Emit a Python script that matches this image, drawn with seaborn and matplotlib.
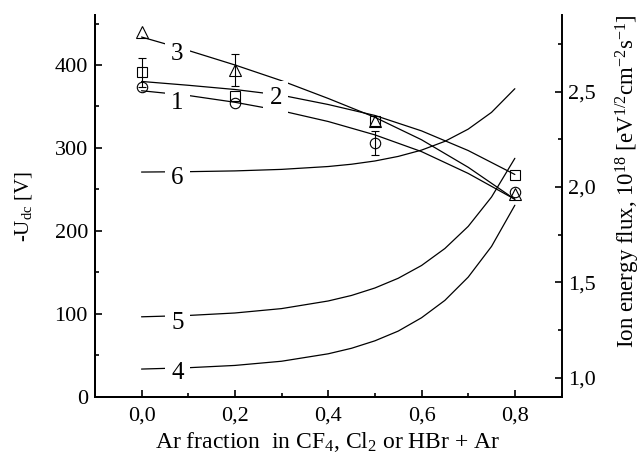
import numpy as np
import pandas as pd
import matplotlib
matplotlib.use("Agg")
import matplotlib.pyplot as plt
import seaborn as sns
from matplotlib.ticker import MultipleLocator, FuncFormatter

# fitted curves for -Udc [V] (left axis), curves 1-3
x_udc = [0.0, 0.1, 0.2, 0.3, 0.4, 0.5, 0.6, 0.7, 0.8]
udc_1 = [369.0, 363.3, 355.1, 344.8, 331.9, 315.8, 295.6, 269.3, 238.1]
udc_2 = [380.2, 375.6, 370.5, 363.6, 352.4, 339.2, 320.6, 296.9, 268.0]
udc_3 = [433.8, 417.6, 400.1, 381.1, 359.7, 337.0, 309.9, 276.7, 238.1]

# ion energy flux, 10^18 (right axis), curves 4-6
x_ief = [0.0, 0.1, 0.2, 0.3, 0.4, 0.45, 0.5, 0.55, 0.6, 0.65, 0.7, 0.75, 0.8]
ief_4 = [1.045, 1.052, 1.064, 1.086, 1.125, 1.154, 1.193, 1.244, 1.314, 1.405, 1.527, 1.688, 1.904]
ief_5 = [1.319, 1.326, 1.339, 1.362, 1.402, 1.431, 1.470, 1.521, 1.588, 1.677, 1.793, 1.947, 2.150]
ief_6 = [2.078, 2.080, 2.084, 2.092, 2.107, 2.119, 2.136, 2.160, 2.193, 2.239, 2.303, 2.391, 2.515]

# measured points
x_meas = [0.0, 0.2, 0.5, 0.8]
meas_circ = [374, 354, 306, 247]
err_circ = [0, 0, 14.5, 0]
meas_sq = [391, 363, 333, 267]
err_sq = [18, 0, 0, 0]
meas_tri = [440, 394, 332, 245]
err_tri = [0, 19, 0, 0]

sns.set_style("ticks", rc={'axes.edgecolor': 'black', 'xtick.color': 'black', 'ytick.color': 'black',
                           'text.color': 'black', 'axes.labelcolor': 'black'})
plt.rcParams['font.family'] = ['Liberation Serif', 'DejaVu Serif']
plt.rcParams['mathtext.default'] = 'regular'

fig = plt.figure(figsize=(6.41, 4.59), dpi=100)
ax = fig.add_axes([0.148, 0.1357, 0.728, 0.831])
ax2 = ax.twinx()

for yv in [udc_1, udc_2, udc_3]:
    sns.lineplot(x=x_udc, y=yv, ax=ax, color='black', linewidth=0.9)
for yv in [ief_4, ief_5, ief_6]:
    sns.lineplot(x=x_ief, y=yv, ax=ax2, color='black', linewidth=0.9)

# points + error bars (only where there is an error)
for yv, ev, mk, ms in [(meas_circ, err_circ, 'o', 7.5), (meas_sq, err_sq, 's', 6.5), (meas_tri, err_tri, '^', 8)]:
    ax.plot(x_meas, yv, ls='none', marker=mk, ms=ms, mfc='none', mec='black', mew=0.8, zorder=4)
    xs = [x for x, e in zip(x_meas, ev) if e > 0]
    ys = [y for y, e in zip(yv, ev) if e > 0]
    es = [e for e in ev if e > 0]
    ax.errorbar(xs, ys, yerr=es, fmt='none', ecolor='black', elinewidth=0.8, capsize=3, capthick=0.8, zorder=4)

box = dict(facecolor='white', edgecolor='none', boxstyle='square,pad=0.25')
ax.text(0.077, 413, '3', fontsize=18, ha='center', va='center', bbox=box, zorder=6)
ax.text(0.077, 354, '1', fontsize=18, ha='center', va='center', bbox=box, zorder=6)
ax.text(0.288, 360, '2', fontsize=18, ha='center', va='center', bbox=box, zorder=6)
ax2.text(0.077, 2.049, '6', fontsize=18, ha='center', va='center', bbox=box, zorder=6)
ax2.text(0.077, 1.287, '5', fontsize=18, ha='center', va='center', bbox=box, zorder=6)
ax2.text(0.077, 1.026, '4', fontsize=18, ha='center', va='center', bbox=box, zorder=6)

ax.set_xlim(-0.1, 0.9)
ax.set_ylim(0, 460)
ax2.set_ylim(0.9, 2.9)

comma = FuncFormatter(lambda v, p: ('%.1f' % v).replace('.', ','))
ax.xaxis.set_major_locator(MultipleLocator(0.2))
ax.xaxis.set_minor_locator(MultipleLocator(0.1))
ax.xaxis.set_major_formatter(comma)
ax.yaxis.set_major_locator(MultipleLocator(100))
ax.yaxis.set_minor_locator(MultipleLocator(50))
ax2.yaxis.set_major_locator(MultipleLocator(0.5))
ax2.yaxis.set_minor_locator(MultipleLocator(0.25))
ax2.yaxis.set_major_formatter(comma)

ax.tick_params(which='major', direction='in', length=5, width=1.2, labelsize=16, pad=5)
ax.tick_params(axis='x', which='major', pad=7)
ax.tick_params(which='minor', direction='in', length=3, width=1.2)
ax2.tick_params(which='major', direction='in', length=5, width=1.2, labelsize=16, pad=5)
ax2.tick_params(which='minor', direction='in', length=3, width=1.2)

for a in [ax, ax2]:
    a.spines['top'].set_visible(False)
    for s in ['left', 'right', 'bottom']:
        a.spines[s].set_linewidth(1.4)
ax.spines['right'].set_visible(False)

ax.set_xlabel('Ar fraction  in CF$_4$, Cl$_2$ or HBr + Ar', fontsize=17, labelpad=3)
ax.set_ylabel('-U$_{dc}$ [V]', fontsize=15)
ax.yaxis.set_label_coords(-0.13, 0.5)
ax2.set_ylabel('Ion energy flux, 10$^{18}$ [eV$^{1/2}$cm$^{-2}$s$^{-1}$]', fontsize=16.5)
ax2.yaxis.set_label_coords(1.112, 0.565)

fig.savefig('out.png', dpi=100)
